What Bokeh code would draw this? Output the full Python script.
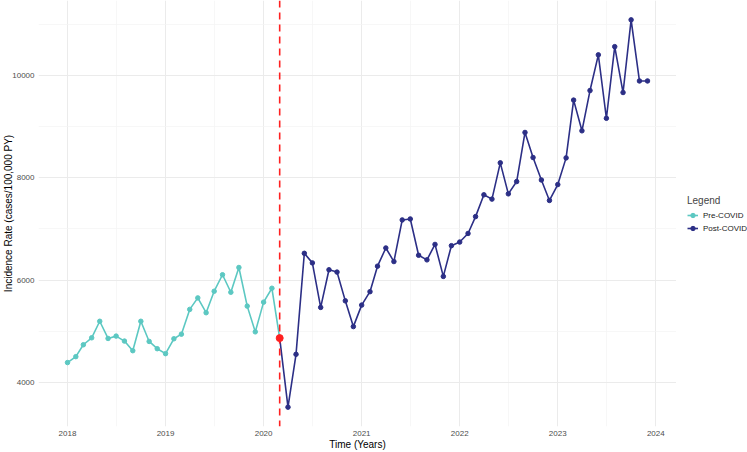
import pandas as pd
from bokeh.plotting import figure
from bokeh.layouts import row
from bokeh.models import (Range1d, FixedTicker, Span, Legend, LegendItem)
from bokeh.embed import file_html
from bokeh.resources import INLINE

# ---- data ----
pre_months = pd.date_range("2018-01-01", "2020-03-01", freq="MS")
pre_values = [4387, 4503, 4735, 4871, 5194, 4858, 4904, 4807, 4619, 5194, 4800, 4658,
              4561, 4852, 4942, 5426, 5651, 5361, 5781, 6103, 5761, 6245, 5490, 4987,
              5568, 5839, 4865]
post_months = pd.date_range("2020-03-01", "2023-12-01", freq="MS")
post_values = [4865, 3516, 4548, 6522, 6335, 5465, 6200, 6155, 5593, 5090,
               5510, 5772, 6271, 6626, 6361, 7174, 7193, 6484, 6394, 6696, 6071, 6671,
               6742, 6910, 7239, 7665, 7581, 8290, 7684, 7924, 8884, 8394, 7955, 7555,
               7865, 8387, 9516, 8916, 9703, 10400, 9161, 10561, 9664, 11084, 9890, 9890]
covid_date = pd.Timestamp("2020-03-01")
covid_value = 4865
x_ticks = [2018, 2019, 2020, 2021, 2022, 2023, 2024]
x_minor = [2018.5, 2019.5, 2020.5, 2021.5, 2022.5, 2023.5]
y_ticks = [4000, 6000, 8000, 10000]
y_minor = [5000, 7000, 9000, 11000]
series_names = ["Pre-COVID", "Post-COVID"]
pre_color = "#5CC8C2"
post_color = "#2C2F86"


def dec_year(dates):
    d = pd.DatetimeIndex(dates)
    days = [366 if y % 4 == 0 else 365 for y in d.year]
    return [y + (doy - 1) / n for y, doy, n in zip(d.year, d.dayofyear, days)]


pre_x = dec_year(pre_months)
post_x = dec_year(post_months)
covid_x = dec_year([covid_date])[0]

all_x = pre_x + post_x
all_y = pre_values + post_values
xmin, xmax = min(all_x), max(all_x)
ymin, ymax = min(all_y), max(all_y)
xpad = (xmax - xmin) * 0.05
ypad = (ymax - ymin) * 0.05

H = 452
p = figure(width=676, height=H, output_backend="svg", toolbar_location=None,
           x_range=Range1d(xmin - xpad, xmax + xpad),
           y_range=Range1d(ymin - ypad, ymax + ypad),
           min_border_left=0, min_border_right=0, min_border_top=0, min_border_bottom=0)
p.outline_line_color = None
p.background_fill_color = "white"
p.border_fill_color = "white"

# axes
p.xaxis.ticker = FixedTicker(ticks=x_ticks, minor_ticks=x_minor)
p.yaxis.ticker = FixedTicker(ticks=y_ticks, minor_ticks=y_minor)
for ax in (p.xaxis[0], p.yaxis[0]):
    ax.axis_line_color = None
    ax.major_tick_line_color = None
    ax.minor_tick_line_color = None
    ax.major_tick_out = 0
    ax.major_tick_in = 0
    ax.minor_tick_out = 0
    ax.minor_tick_in = 0
    ax.major_label_text_font = "Liberation Sans"
    ax.major_label_text_font_size = "8px"
    ax.major_label_text_color = "#4D4D4D"
    ax.axis_label_text_font = "Liberation Sans"
    ax.axis_label_text_font_size = "10px"
    ax.axis_label_text_font_style = "normal"
    ax.axis_label_text_color = "black"
p.xaxis.axis_label = "Time (Years)"
p.yaxis.axis_label = "Incidence Rate (cases/100,000 PY)"
p.xaxis.major_label_standoff = 4
p.xaxis.axis_label_standoff = 0
p.yaxis.major_label_standoff = 4
p.yaxis.axis_label_standoff = -5

# grid
for g in (p.xgrid[0], p.ygrid[0]):
    g.grid_line_color = "#EBEBEB"
    g.grid_line_width = 1
    g.minor_grid_line_color = "#F3F3F3"
    g.minor_grid_line_width = 0.7

# lines
l1 = p.line(pre_x, pre_values, line_color=pre_color, line_width=1.6)
s1 = p.scatter(pre_x, pre_values, fill_color=pre_color, line_color=pre_color, size=4.5)
l2 = p.line(post_x, post_values, line_color=post_color, line_width=1.6)
s2 = p.scatter(post_x, post_values, fill_color=post_color, line_color=post_color, size=4.5)

p.add_layout(Span(location=covid_x, dimension="height", line_color="#FF2020",
                  line_width=1.6, line_dash="7 5"))
p.scatter([covid_x], [covid_value], fill_color="#FF2020", line_color="#FF2020", size=7)

# ---- legend in its own narrow figure to the right ----
lf = figure(width=71, height=H, output_backend="svg", toolbar_location=None,
            x_range=Range1d(0, 1), y_range=Range1d(0, 1),
            min_border_left=0, min_border_right=0, min_border_top=0, min_border_bottom=0)
lf.axis.visible = False
lf.grid.visible = False
lf.outline_line_color = None
lf.background_fill_color = "white"
lf.border_fill_color = "white"
# legend keys: renderers placed outside the visible range
k1 = lf.line([-5, -4], [-5, -4], line_color=pre_color, line_width=1.6)
k1s = lf.scatter([-5], [-5], fill_color=pre_color, line_color=pre_color, size=4.5)
k2 = lf.line([-5, -4], [-5, -4], line_color=post_color, line_width=1.6)
k2s = lf.scatter([-5], [-5], fill_color=post_color, line_color=post_color, size=4.5)

legend = Legend(items=[LegendItem(label=series_names[0], renderers=[k1, k1s]),
                       LegendItem(label=series_names[1], renderers=[k2, k2s])],
                location=(11, 192), title="Legend")
legend.title_text_font = "Liberation Sans"
legend.title_text_font_size = "10px"
legend.title_text_font_style = "normal"
legend.title_standoff = 3
legend.label_text_font = "Liberation Sans"
legend.label_text_font_size = "8px"
legend.label_text_color = "#1A1A1A"
legend.glyph_width = 11
legend.glyph_height = 12
legend.label_height = 12
legend.label_standoff = 5
legend.spacing = 1
legend.padding = 0
legend.margin = 0
legend.border_line_color = None
legend.background_fill_alpha = 0
lf.add_layout(legend, "center")

layout = row(p, lf, spacing=0)
open("out.html", "w").write(file_html(layout, INLINE))
